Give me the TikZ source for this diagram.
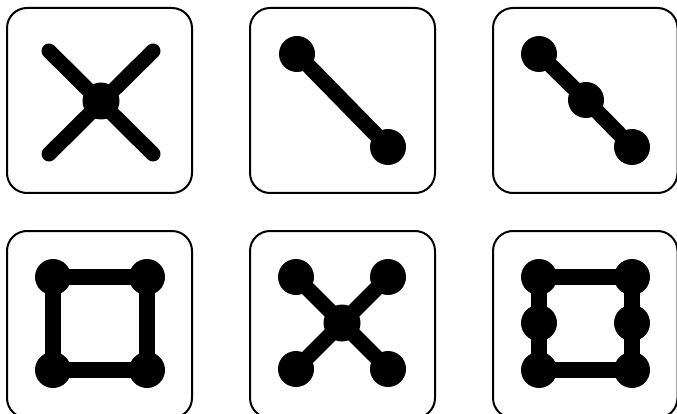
\documentclass[tikz,border=0pt]{standalone}
\pgfdeclarelayer{back}
\pgfsetlayers{back,main}
\begin{document}
\begin{tikzpicture}[x=1pt,y=-1pt,
  frame/.style={draw=black,line width=2pt,rounded corners=20pt,fill=white},
  dot/.style={circle,fill=black,inner sep=0pt,minimum size=36pt},
  bigdot/.style={circle,fill=black,inner sep=0pt,minimum size=37pt},
  link/.style={line width=15.5pt,draw=black},
  arm/.style={line width=15pt,draw=black,line cap=round}]
\useasboundingbox (0,0) rectangle (677,414);
\begin{pgfonlayer}{back}
\draw[frame] (7,8) rectangle (192,193);
\draw[frame] (250,8) rectangle (435,193);
\draw[frame] (493,8) rectangle (677.5,193);
\draw[frame] (7,231) rectangle (192,418);
\draw[frame] (250,231) rectangle (435,418);
\draw[frame] (493,231) rectangle (677.5,418);
\end{pgfonlayer}
% box 1: cross
\coordinate (a1) at (49,51);
\coordinate (a2) at (153,51);
\coordinate (a3) at (49,154);
\coordinate (a4) at (153,154);
\node[bigdot] (c1) at (101,101) {};
% box 2: segment
\node[dot] (b1) at (297,54) {};
\node[dot] (b2) at (388,147) {};
% box 3: three dots
\node[dot] (d1) at (539,54) {};
\node[dot] (d2) at (586,100) {};
\node[dot] (d3) at (632,147) {};
% box 4: square
\node[dot] (e1) at (53,277) {};
\node[dot] (e2) at (147,277) {};
\node[dot] (e3) at (53,370) {};
\node[dot] (e4) at (147,370) {};
% box 5: star
\node[dot] (f1) at (296,277) {};
\node[dot] (f2) at (388,277) {};
\node[dot] (f3) at (296,369) {};
\node[dot] (f4) at (388,369) {};
\node[bigdot] (f0) at (342,323) {};
% box 6
\node[dot] (g1) at (539,277) {};
\node[dot] (g2) at (632,277) {};
\node[dot] (g3) at (539,323) {};
\node[dot] (g4) at (632,323) {};
\node[dot] (g5) at (539,370) {};
\node[dot] (g6) at (632,370) {};
\begin{pgfonlayer}{back}
\draw[arm] (a1) -- (a4);
\draw[arm] (a2) -- (a3);
\draw[link] (b1.center) -- (b2.center);
\draw[link] (d1.center) -- (d2.center) -- (d3.center);
\draw[link] (e1.center) -- (e2.center) -- (e4.center) -- (e3.center) -- cycle;
\draw[link] (f1.center) -- (f0.center);
\draw[link] (f2.center) -- (f0.center);
\draw[link] (f3.center) -- (f0.center);
\draw[link] (f4.center) -- (f0.center);
\draw[link] (g1.center) -- (g2.center) -- (g4.center) -- (g6.center) -- (g5.center) -- (g3.center) -- cycle;
\end{pgfonlayer}
\end{tikzpicture}
\end{document}
